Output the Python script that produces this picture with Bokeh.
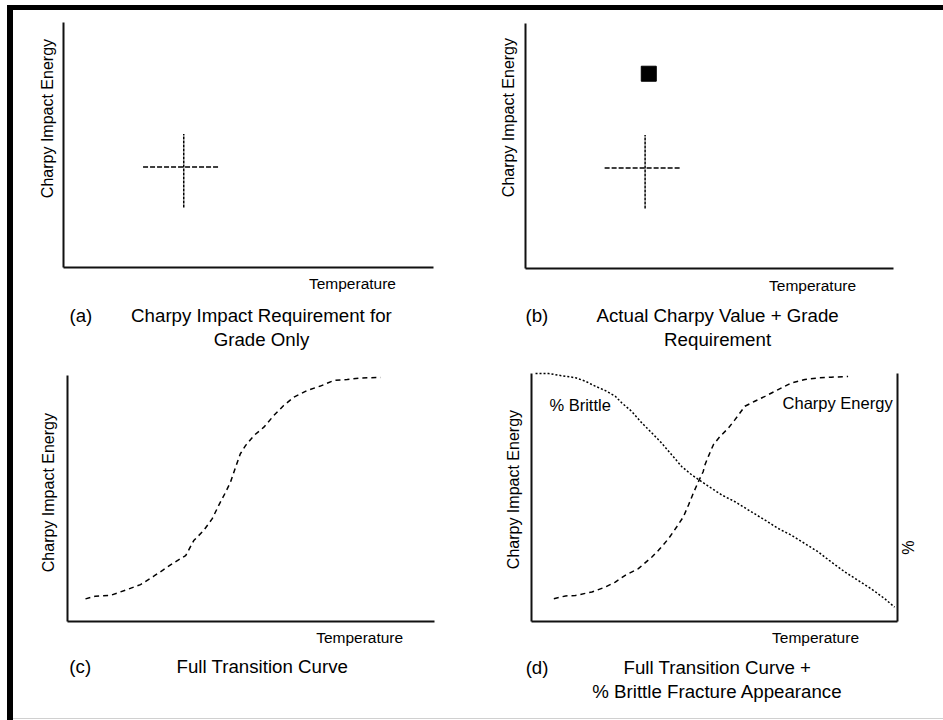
import numpy as np
from bokeh.plotting import figure
from bokeh.layouts import row, column
from bokeh.models import Label, Range1d, LinearAxis, Div, Spacer, FixedTicker
from bokeh.embed import file_html
from bokeh.resources import INLINE

FONT = "Liberation Sans"

# Grade requirement: test temperature / minimum energy and the cross-hair extents
req_temp = 32.5
req_energy = 41.0
req_temp_span = [21.5, 42.0]
req_energy_span = [24.5, 54.5]

# Single measured Charpy result
actual_temp = [33.5]
actual_energy = [79.5]

# Full ductile-brittle transition curve (panel c)
curve_c_temp = [4.9, 7.6, 11.7, 16.3, 19.9, 23.5, 26.2, 29.0, 32.2, 34.4, 37.1, 39.4,
                41.2, 43.1, 44.4, 45.8, 47.1, 48.5, 50.8, 53.5, 56.2, 58.9, 61.7, 65.3,
                68.9, 72.6, 76.2, 79.8, 85.3]
curve_c_energy = [9.2, 10.3, 10.6, 13.0, 15.0, 18.4, 21.1, 23.9, 26.8, 32.9, 37.0, 41.7,
                  47.2, 52.6, 56.6, 62.7, 68.2, 71.5, 75.6, 79.0, 83.7, 87.8, 91.2, 93.9,
                  95.7, 98.0, 98.4, 99.0, 99.2]

# Transition curve plus brittle fracture appearance (panel d)
curve_d_temp = [6.1, 9.3, 12.0, 16.5, 20.2, 22.9, 25.6, 29.2, 32.9, 34.7, 37.5, 39.7,
                41.5, 42.9, 44.2, 45.6, 46.9, 47.4, 48.3, 49.7, 51.5, 53.8, 55.6, 58.3,
                61.0, 63.8, 67.4, 71.0, 74.7, 78.3, 81.9, 86.5]
curve_d_energy = [9.2, 10.3, 10.5, 11.9, 13.9, 15.9, 18.6, 21.3, 26.0, 28.7, 33.5, 38.2,
                  42.2, 47.0, 51.7, 56.4, 60.4, 63.2, 66.5, 71.3, 74.6, 78.0, 81.4, 86.8,
                  88.8, 90.8, 93.5, 96.2, 97.6, 98.2, 98.5, 98.8]
brittle_temp = [1.1, 4.7, 7.4, 12.0, 14.7, 17.4, 20.2, 22.9, 24.7, 27.4, 30.2, 32.9,
                35.6, 38.3, 41.1, 43.8, 46.5, 49.2, 52.0, 55.6, 60.1, 63.8, 67.4, 71.0,
                74.7, 78.3, 81.9, 85.6, 89.2, 92.8, 96.5, 99.2]
brittle_pct = [100.0, 100.0, 99.3, 98.3, 96.9, 94.9, 93.1, 90.8, 88.1, 84.7, 80.0, 76.0,
               71.9, 67.2, 62.4, 59.1, 56.4, 53.7, 51.0, 48.3, 44.2, 40.9, 37.5, 34.8,
               31.4, 28.1, 24.0, 20.0, 16.6, 13.2, 9.2, 5.8]

AXIS_COLOR = "#111111"
TEXT_COLOR = "#000000"


def style_axis(ax, at):
    # axis drawn inside the canvas at a fixed data position, limited to 0..100
    ax.fixed_location = at
    ax.bounds = (0, 100)
    ax.ticker = FixedTicker(ticks=[])
    ax.major_tick_out = 0
    ax.major_tick_in = 0
    ax.minor_tick_out = 0
    ax.minor_tick_in = 0
    ax.major_label_standoff = 0
    ax.major_label_text_font_size = "0px"
    ax.axis_line_width = 2
    ax.axis_line_color = AXIS_COLOR


def make_panel(width, height, left, plot_w, top, plot_h):
    """Canvas of width x height; the 0..100 plot box sits at (left, top) with
    size plot_w x plot_h pixels, the rest of the canvas holds the texts."""
    sx = plot_w / 100.0
    sy = plot_h / 100.0
    x0 = -left / sx
    x1 = 100 + (width - left - plot_w) / sx
    y0 = -(height - top - plot_h) / sy
    y1 = 100 + top / sy
    p = figure(width=width, height=height,
               x_range=Range1d(x0, x1), y_range=Range1d(y0, y1),
               toolbar_location=None, output_backend="svg",
               min_border=0)
    p.grid.visible = False
    p.outline_line_color = None
    p.background_fill_color = "white"
    p.border_fill_color = "white"
    style_axis(p.xaxis[0], 0)
    style_axis(p.yaxis[0], 0)
    return p


def text(p, x, y, s, size, align="center", angle=0.0):
    p.add_layout(Label(x=x, y=y, text=s, text_font=FONT, text_font_size=size,
                       text_align=align, text_baseline="middle", angle=angle,
                       text_color=TEXT_COLOR))


def requirement_cross(p):
    p.line(req_temp_span, [req_energy, req_energy], line_color="black",
           line_width=1.5, line_dash="5 2")
    p.line([req_temp, req_temp], req_energy_span, line_color="black",
           line_width=1.5, line_dash="3 1")


CAP = "18.7px"
AX = "16px"
TEMP = "15.5px"
VERT = np.pi / 2

TOP_H = 352
BOTTOM_H = 356

# (a) requirement only
pa = make_panel(457, TOP_H, 50, 370, 12, 245)
requirement_cross(pa)
text(pa, -4.3, 60.8, "Charpy Impact Energy", AX, angle=VERT)
text(pa, 78.1, -6.5, "Temperature", TEMP)
text(pa, 1.6, -19.6, "(a)", CAP, align="left")
text(pa, 53.5, -19.6, "Charpy Impact Requirement for", CAP)
text(pa, 53.5, -29.4, "Grade Only", CAP)

# (b) actual value + requirement
pb = make_panel(473, TOP_H, 55, 368, 13, 245)
requirement_cross(pb)
pb.scatter(actual_temp, actual_energy, marker="square", size=15,
           fill_color="black", line_color="black")
text(pb, -4.6, 61.6, "Charpy Impact Energy", AX, angle=VERT)
text(pb, 78.0, -6.9, "Temperature", TEMP)
text(pb, 0.0, -19.2, "(b)", CAP, align="left")
text(pb, 52.2, -19.2, "Actual Charpy Value + Grade", CAP)
text(pb, 52.2, -29.0, "Requirement", CAP)

# (c) full transition curve
pc = make_panel(457, BOTTOM_H, 54, 367, 13, 246)
pc.line(curve_c_temp, curve_c_energy, line_color="black", line_width=1.5,
        line_dash="5 4")
text(pc, -5.2, 52.4, "Charpy Impact Energy", AX, angle=VERT)
text(pc, 79.6, -6.5, "Temperature", TEMP)
text(pc, 0.5, -18.3, "(c)", CAP, align="left")
text(pc, 53.1, -18.3, "Full Transition Curve", CAP)

# (d) transition curve + % brittle fracture on a second (right) axis
pd_ = make_panel(473, BOTTOM_H, 61, 366, 11, 248)
pd_.extra_y_ranges = {"pct": Range1d(pd_.y_range.start, pd_.y_range.end)}
right_axis = LinearAxis(y_range_name="pct")
style_axis(right_axis, 100)
pd_.add_layout(right_axis, "right")
pd_.line(curve_d_temp, curve_d_energy, line_color="black", line_width=1.5,
         line_dash="5 4")
pd_.line(brittle_temp, brittle_pct, y_range_name="pct", line_color="black",
         line_width=1.5, line_dash="2 2")
text(pd_, 4.9, 87.1, "% Brittle", "16.5px", align="left")
text(pd_, 68.6, 88.3, "Charpy Energy", "16.5px", align="left")
text(pd_, -4.9, 53.2, "Charpy Impact Energy", AX, angle=VERT)
text(pd_, 102.7, 29.8, "%", AX, angle=-VERT)
text(pd_, 77.6, -6.5, "Temperature", TEMP)
text(pd_, -1.6, -18.5, "(d)", CAP, align="left")
text(pd_, 50.8, -18.5, "Full Transition Curve +", CAP)
text(pd_, 50.8, -28.2, "% Brittle Fracture Appearance", CAP)

grid = row(column(pa, pc, spacing=0), column(pb, pd_, spacing=0), spacing=0)


def bar(w, h, color):
    return Div(text="", width=w, height=h, margin=0,
               styles={"background-color": color})


top_bar = row(Spacer(width=7, height=5, margin=0), bar(936, 5, "#000000"), spacing=0)
content = column(grid, bar(930, 1, "#d0d0d0"), Spacer(width=930, height=1, margin=0),
                 spacing=0)
body = row(Spacer(width=7, height=710, margin=0), bar(6, 710, "#000000"), content,
           spacing=0)
page = column(Spacer(width=943, height=5, margin=0), top_bar, body, spacing=0)

open("out.html", "w").write(file_html(page, INLINE))
